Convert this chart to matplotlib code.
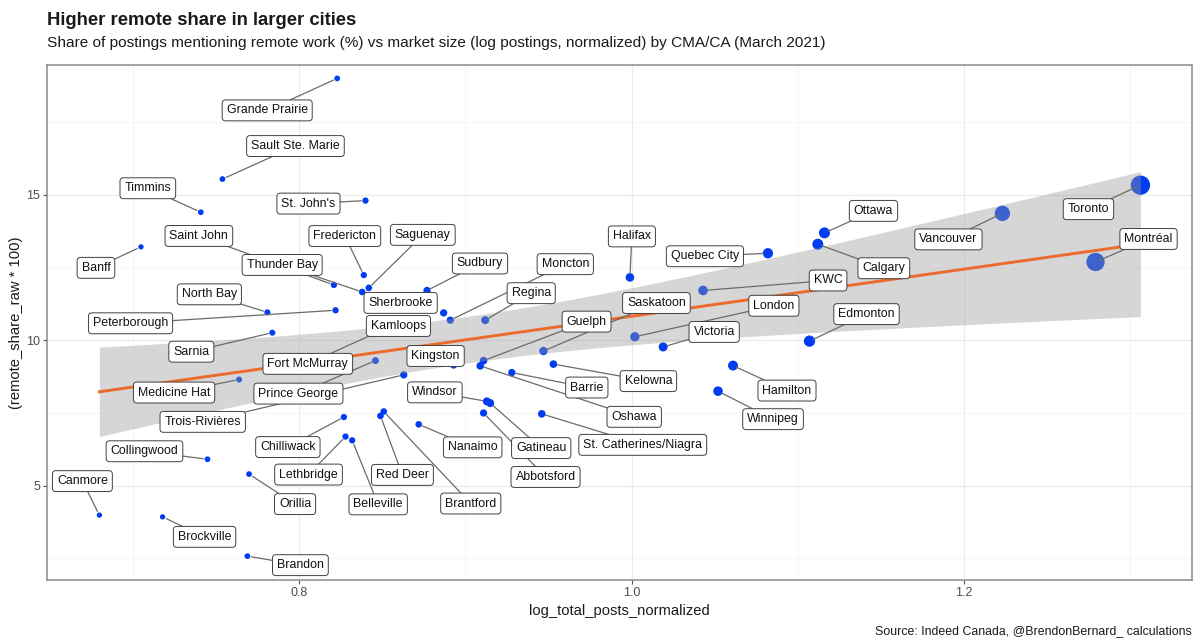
import numpy as np
import matplotlib
matplotlib.use("Agg")
import matplotlib.pyplot as plt

plt.rcParams['font.family'] = ['Liberation Sans', 'DejaVu Sans']

# CMA/CA, March 2021
cities = ["Grande Prairie", "Sault Ste. Marie", "Timmins", "St. John's", "Banff",
          "Saint John", "Fredericton", "Saguenay", "Thunder Bay", "Sudbury",
          "Moncton", "North Bay", "Sherbrooke", "Regina", "Peterborough",
          "Kamloops", "Sarnia", "Fort McMurray", "Kingston", "Medicine Hat",
          "Prince George", "Trois-Rivières", "Chilliwack", "Collingwood", "Lethbridge",
          "Canmore", "Orillia", "Belleville", "Red Deer", "Brantford",
          "Brockville", "Brandon", "Windsor", "Nanaimo", "Gatineau",
          "Abbotsford", "St. Catherines/Niagra", "Barrie", "Kelowna", "Oshawa",
          "Guelph", "Saskatoon", "Halifax", "Quebec City", "KWC",
          "London", "Victoria", "Hamilton", "Winnipeg", "Edmonton",
          "Calgary", "Ottawa", "Vancouver", "Toronto", "Montréal"]

log_posts_norm = [0.823, 0.754, 0.741, 0.840, 0.705,
                  0.821, 0.839, 0.842, 0.838, 0.877,
                  0.891, 0.781, 0.887, 0.912, 0.822,
                  0.852, 0.784, 0.845, 0.893, 0.764,
                  0.846, 0.863, 0.827, 0.745, 0.828,
                  0.680, 0.770, 0.832, 0.849, 0.851,
                  0.718, 0.769, 0.913, 0.872, 0.915,
                  0.911, 0.946, 0.928, 0.953, 0.909,
                  0.911, 0.947, 0.999, 1.082, 1.043,
                  1.002, 1.019, 1.061, 1.052, 1.107,
                  1.112, 1.116, 1.223, 1.306, 1.279]

remote_share = [19.00, 15.54, 14.40, 14.80, 13.21,
                11.90, 12.24, 11.80, 11.66, 11.71,
                10.69, 10.96, 10.94, 10.69, 11.03,
                10.49, 10.26, 10.22, 9.15, 8.65,
                9.30, 8.81, 7.36, 5.91, 6.69,
                3.99, 5.40, 6.56, 7.40, 7.55,
                3.93, 2.58, 7.90, 7.11, 7.84,
                7.50, 7.47, 8.89, 9.18, 9.12,
                9.30, 9.63, 12.16, 12.99, 11.71,
                10.12, 9.77, 9.13, 8.25, 9.97,
                13.30, 13.69, 14.36, 15.33, 12.69]

# relative posting volume (Toronto = 100)
rel_postings = [0.1, 0.1, 0.1, 0.5, 0.0,
                0.5, 0.5, 0.9, 0.9, 2.0,
                2.0, 0.3, 2.0, 3.7, 0.5,
                0.9, 0.3, 0.9, 2.0, 0.3,
                1.5, 2.0, 0.5, 0.1, 0.5,
                0.0, 0.1, 0.5, 0.9, 0.9,
                0.0, 0.1, 3.7, 0.9, 3.7,
                2.0, 2.7, 2.0, 2.7, 2.7,
                2.7, 4.6, 5.6, 12.8, 9.4,
                8.2, 7.0, 11.0, 9.4, 18.0,
                16.6, 16.6, 51.0, 100.0, 86.0]

# label placement (pixel offset of the label centre from its point)
label_offset = {
    "Grande Prairie": (-70, -32), "Sault Ste. Marie": (73, 33), "Timmins": (-53, 24),
    "St. John's": (-57, -3), "Banff": (-45, -21), "Saint John": (-135, 49),
    "Fredericton": (-19, 39), "Saguenay": (54, 53), "Thunder Bay": (-80, 27),
    "Sudbury": (53, 27), "Moncton": (115, 56), "North Bay": (-58, 18),
    "Sherbrooke": (-43, 10), "Regina": (46, 27), "Peterborough": (-205, -13),
    "Kamloops": (13, 0), "Sarnia": (-81, -19), "Fort McMurray": (-66, -30),
    "Kingston": (-18, 9), "Medicine Hat": (-65, -13), "Prince George": (-77, -33),
    "Trois-Rivières": (-201, -47), "Chilliwack": (-56, -30), "Collingwood": (-63, 8),
    "Lethbridge": (-37, -38), "Canmore": (-17, 34), "Orillia": (46, -30),
    "Belleville": (26, -64), "Red Deer": (22, -59), "Brantford": (87, -92),
    "Brockville": (42, -20), "Brandon": (53, -9), "Windsor": (-52, 9),
    "Nanaimo": (54, -23), "Gatineau": (51, -45), "Abbotsford": (62, -64),
    "St. Catherines/Niagra": (101, -31), "Barrie": (75, -15), "Kelowna": (95, -17),
    "Oshawa": (154, -51), "Guelph": (103, 39), "Saskatoon": (113, 48),
    "Halifax": (2, 41), "Quebec City": (-63, -3), "KWC": (125, 10),
    "London": (139, 31), "Victoria": (51, 15), "Hamilton": (54, -25),
    "Winnipeg": (55, -28), "Edmonton": (57, 27), "Calgary": (66, -24),
    "Ottawa": (49, 22), "Vancouver": (-54, -26), "Toronto": (-52, -24),
    "Montréal": (53, 23),
}
no_segment = ["Sherbrooke", "Kingston", "Kamloops"]

x = np.array(log_posts_norm)
y = np.array(remote_share)
v = np.array(rel_postings)
diam = 5.3 + 14 * np.sqrt(v / v.max())       # marker diameter in px
sizes = (diam * 0.72) ** 2

# linear fit + 95% confidence band
n = len(x)
b1, b0 = np.polyfit(x, y, 1)
resid = y - (b0 + b1 * x)
s = np.sqrt(np.sum(resid ** 2) / (n - 2))
xg = np.linspace(x.min(), x.max(), 100)
yg = b0 + b1 * xg
se = s * np.sqrt(1 / n + (xg - x.mean()) ** 2 / np.sum((x - x.mean()) ** 2))
t = 2.006

fig = plt.figure(figsize=(12, 6.44), dpi=100)
ax = fig.add_axes([47 / 1200, 1 - 580 / 644, 1145 / 1200, 515 / 644])

ax.scatter(x, y, s=sizes, color='#003cf0', linewidths=0, zorder=2)
ax.fill_between(xg, yg - t * se, yg + t * se, color='#999999', alpha=0.4,
                linewidth=0, zorder=2.5)
ax.plot(xg, yg, color='#ec6a2c', lw=2.1, zorder=3)

lab_size = 8.9
box = dict(boxstyle='round,pad=0.36,rounding_size=0.28')
for name, xi, yi in zip(cities, x, y):
    off = label_offset[name]
    if name not in no_segment:
        ax.annotate(name, xy=(xi, yi), xytext=off, textcoords='offset pixels',
                    ha='center', va='center', fontsize=lab_size, color='none',
                    bbox=dict(box, fc='none', ec='none'),
                    arrowprops=dict(arrowstyle='-', color='#6b6b6b', lw=0.9,
                                    shrinkA=0, shrinkB=3),
                    zorder=4)
for name, xi, yi in zip(cities, x, y):
    off = label_offset[name]
    ax.annotate(name, xy=(xi, yi), xytext=off, textcoords='offset pixels',
                ha='center', va='center', fontsize=lab_size, color='#111111',
                bbox=dict(box, fc='white', ec='#404040', lw=0.7),
                zorder=5)

ax.set_xlim(0.6485, 1.337)
ax.set_ylim(1.76, 19.46)
ax.set_xticks([0.8, 1.0, 1.2])
ax.set_xticklabels(['0.8', '1.0', '1.2'])
ax.set_xticks([0.7, 0.9, 1.1, 1.3], minor=True)
ax.set_yticks([5, 10, 15])
ax.set_yticks([2.5, 7.5, 12.5, 17.5], minor=True)
ax.grid(which='major', color='#ebebeb', lw=0.9)
ax.grid(which='minor', color='#f2f2f2', lw=0.5)
ax.set_axisbelow(True)
ax.tick_params(which='major', length=3, width=0.8, color='#555555',
               labelsize=9, labelcolor='#4d4d4d', pad=2)
ax.tick_params(which='minor', length=0)
for sp in ax.spines.values():
    sp.set_color('#8a8a8a')
    sp.set_linewidth(1.1)

ax.set_xlabel('log_total_posts_normalized', fontsize=10.6, color='#1a1a1a', labelpad=4)
ax.set_ylabel('(remote_share_raw * 100)', fontsize=10.6, color='#1a1a1a', labelpad=2)

fig.text(47 / 1200, 1 - 25 / 644, 'Higher remote share in larger cities',
         fontsize=13.3, fontweight='bold', color='#1a1a1a', ha='left', va='baseline')
fig.text(47 / 1200, 1 - 47 / 644,
         'Share of postings mentioning remote work (%) vs market size '
         '(log postings, normalized) by CMA/CA (March 2021)',
         fontsize=11.1, color='#1a1a1a', ha='left', va='baseline')
fig.text(1192 / 1200, 1 - 631 / 644,
         'Source: Indeed Canada, @BrendonBernard_ calculations',
         fontsize=8.9, color='#1a1a1a', ha='right', va='center')

fig.savefig('out.png', dpi=100)
